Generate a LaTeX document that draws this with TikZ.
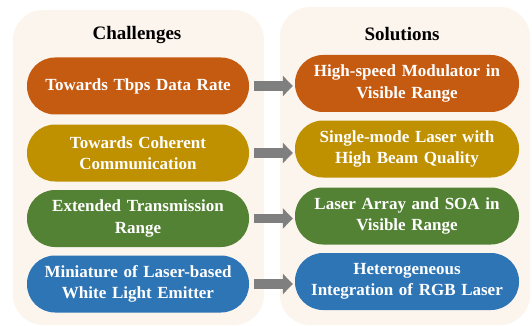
\documentclass[tikz,border=0pt]{standalone}
\usepackage{fontspec}
\setmainfont{Liberation Serif}[WordSpace=0.8]
\usetikzlibrary{arrows.meta}
\definecolor{panelbg}{HTML}{FCF5EE}
\definecolor{rateorange}{HTML}{C55A11}
\definecolor{cohgold}{HTML}{BF9000}
\definecolor{rangegreen}{HTML}{548235}
\definecolor{whiteblue}{HTML}{2E75B6}
\definecolor{arrowgray}{HTML}{7F7F7F}
\tikzset{
  panel/.style={fill=panelbg, draw=none, rounded corners=30pt},
  heading/.style={font=\fontsize{19}{22}\selectfont\bfseries, text=black},
  pill/.style={draw=none, rounded corners=28pt, minimum height=57pt,
    text=white, align=center, inner sep=0pt,
    font=\fontsize{17}{21.5}\selectfont\bfseries},
  leftpill/.style={pill, minimum width=222pt, text width=214pt},
  rightpill/.style={pill, minimum width=224pt, text width=216pt},
  conn/.style={draw=arrowgray, line width=9.5pt,
    -{Triangle[width=20pt,length=10pt]}}
}
\begin{document}
\begin{tikzpicture}[x=1pt,y=-1pt]
  \useasboundingbox (0,0) rectangle (532,326);
  % background panels
  \fill[panel] (13,10) rectangle (264,325);
  \fill[panel] (280,7) rectangle (530,325);
  % headings
  \node[heading] (hc) at (137,35) {Challenges};
  \node[heading] (hs) at (402,34) {Solutions};
  % challenges
  \node[leftpill, fill=rateorange] (c1) at (138,86) {Towards Tbps Data Rate};
  \node[leftpill, fill=cohgold] (c2) at (138,153) {Towards Coherent\\Communication};
  \node[leftpill, fill=rangegreen] (c3) at (138,218.5) {Extended Transmission\\Range};
  \node[leftpill, fill=whiteblue] (c4) at (138,284) {Miniature of Laser-based\\White Light Emitter};
  % solutions
  \node[rightpill, fill=rateorange] (s1) at (407,83.5) {High-speed Modulator in\\Visible Range};
  \node[rightpill, fill=cohgold] (s2) at (407,149) {Single-mode Laser with\\High Beam Quality};
  \node[rightpill, fill=rangegreen] (s3) at (407,216) {Laser Array and SOA in\\Visible Range};
  \node[rightpill, fill=whiteblue] (s4) at (407,281.5) {Heterogeneous\\Integration of RGB Laser};
  % connectors
  \foreach \i in {1,...,4}{
    \draw[conn] ([xshift=5pt]c\i.east) -- ([xshift=-2pt]c\i.east -| s\i.west);
  }
\end{tikzpicture}
\end{document}
